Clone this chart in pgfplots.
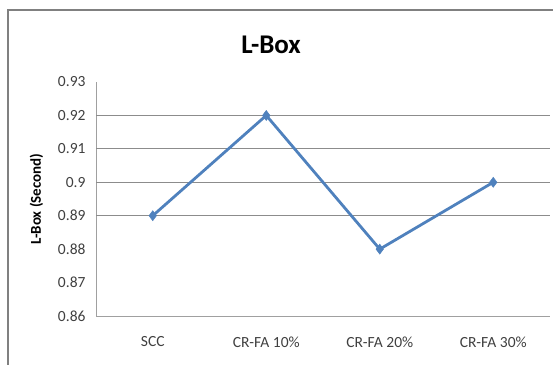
\documentclass[border=0pt]{standalone}
\usepackage{pgfplots}
\pgfplotsset{compat=1.18}
\usepackage{fontspec}
\setmainfont{Carlito}
\definecolor{lineblue}{HTML}{4F81BD}
\definecolor{gridgray}{HTML}{8C8C8C}
\definecolor{axgray}{HTML}{A0A0A0}
\definecolor{txtgray}{HTML}{404040}
\begin{document}
\begin{tikzpicture}[x=1pt,y=1pt]
\useasboundingbox (0,0) rectangle (553,364);
\clip (0,0) rectangle (553,364);
\draw[color=gray, line width=1.8pt] (8,-20) -- (8,354) -- (570,354);
\node[font=\bfseries\fontsize{27}{30}\selectfont] at (271,319) {L-Box};
\begin{axis}[
  at={(96pt,282pt)}, anchor=north west,
  scale only axis, width=454pt, height=234pt,
  xmin=-0.5, xmax=3.5, ymin=0.86, ymax=0.93,
  xtick={0,1,2,3},
  xticklabels={SCC, CR-FA 10\%, CR-FA 20\%, CR-FA 30\%},
  ytick={0.86,0.87,0.88,0.89,0.9,0.91,0.92,0.93},
  yticklabels={0.86,0.87,0.88,0.89,0.9,0.91,0.92,0.93},
  extra y ticks={0.89,0.9,0.91,0.92},
  extra y tick labels={},
  extra y tick style={grid=major, major tick length=0pt},
  major grid style={gridgray, line width=0.8pt},
  axis x line*=bottom, axis y line*=left,
  axis line style={axgray, line width=0.8pt, -},
  major tick length=0pt,
  tick label style={font=\fontsize{15.5}{17}\selectfont, text=txtgray},
  xticklabel style={yshift=-17pt},
  yticklabel style={xshift=-7pt},
  ylabel={\textbf{L-Box (Second)}},
  ylabel style={font=\fontsize{15}{17}\selectfont, at={(ticklabel cs:0.5)}, anchor=south, yshift=8pt},
  clip=false,
]
\addplot[lineblue, line width=2.8pt, mark=diamond*, mark size=5pt, mark options={fill=lineblue, line width=0.5pt}] coordinates {
  (0,0.89) (1,0.92) (2,0.88) (3,0.90)
};
\end{axis}
\end{tikzpicture}
\end{document}
